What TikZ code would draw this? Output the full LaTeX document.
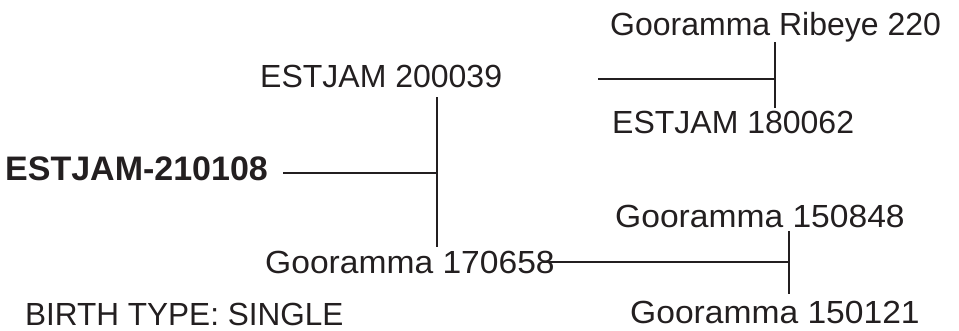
\documentclass[tikz,border=0pt]{standalone}
\usepackage{fontspec}
\setmainfont{Liberation Sans}
\definecolor{ink}{HTML}{231F20}
\newcommand{\wide}[1]{\scalebox{1.05}[1]{#1}}
\begin{document}
\begin{tikzpicture}[x=1pt,y=-1pt,
  lbl/.style={anchor=base west,inner sep=0pt,text=ink,font=\fontsize{32}{36}\selectfont},
  rootlbl/.style={anchor=base west,inner sep=0pt,text=ink,font=\fontsize{34}{38}\selectfont\bfseries},
  link/.style={draw=ink,line width=2pt}]
\useasboundingbox (0,0) rectangle (959,330);
% names
\node[rootlbl] (root) at (5,180) {ESTJAM-210108};
\node[lbl] (sire) at (260,87) {ESTJAM 200039};
\node[lbl] (dam) at (265,273) {\wide{Gooramma 170658}};
\node[lbl] (ss) at (610,35) {Gooramma Ribeye 220};
\node[lbl] (sd) at (612,133) {ESTJAM 180062};
\node[lbl] (ds) at (615,227) {\wide{Gooramma 150848}};
\node[lbl] (dd) at (630,323) {\wide{Gooramma 150121}};
\node[lbl] (birth) at (25,325) {\scalebox{0.985}[1]{BIRTH TYPE: SINGLE}};
% junctions
\coordinate (j1) at (437,173);
\coordinate (j1t) at (437,97);
\coordinate (j1b) at (437,247);
\coordinate (r0) at (283,173);
\coordinate (j2) at (775,79);
\coordinate (j2s) at (598,79);
\coordinate (j2t) at (775,42);
\coordinate (j2b) at (775,108);
\coordinate (j3) at (789,262);
\coordinate (j3s) at (543,262);
\coordinate (j3t) at (789,231);
\coordinate (j3b) at (789,294);
% connectors
\draw[link] (r0) -- (j1);
\draw[link] (j1t) -- (j1b);
\draw[link] (j2s) -- (j2);
\draw[link] (j2t) -- (j2b);
\draw[link] (j3s) -- (j3);
\draw[link] (j3t) -- (j3b);
\end{tikzpicture}
\end{document}
